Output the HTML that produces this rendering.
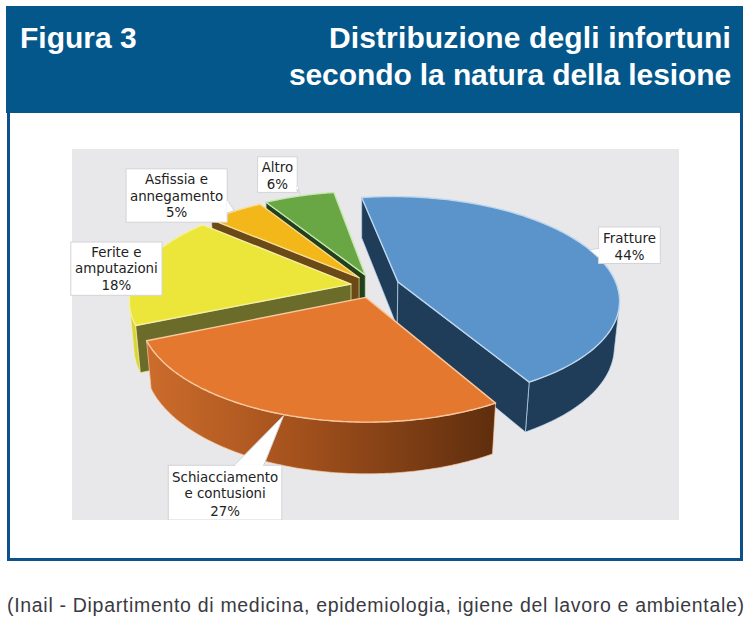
<!DOCTYPE html>
<html><head><meta charset="utf-8"><style>
html,body{margin:0;padding:0;background:#fff;}
body{width:753px;height:625px;position:relative;overflow:hidden;font-family:"Liberation Sans",sans-serif;}
#hdr{position:absolute;left:6px;top:6px;width:737px;height:107px;background:#03578b;}
#box{position:absolute;left:7px;top:110px;width:730px;height:448px;border:3px solid #0c5189;border-top:none;}
#plot{position:absolute;left:72px;top:149px;width:607px;height:371px;background:#e8e8ea;}
.h{position:absolute;color:#fff;font-weight:bold;font-size:30px;white-space:nowrap;line-height:30px;}
svg{position:absolute;left:0;top:0;}
svg text{font-family:"DejaVu Sans",sans-serif;font-size:13.4px;fill:#222;}
.cap{position:absolute;left:7px;top:594px;font-size:19.5px;letter-spacing:0.69px;color:#3a3a42;white-space:nowrap;}
</style></head><body>
<div id="hdr"></div>
<div id="box"></div>
<div id="plot"></div>
<div class="h" style="left:20px;top:23px">Figura 3</div>
<div class="h" style="right:22px;top:23px;text-align:right;letter-spacing:0.13px">Distribuzione degli infortuni</div>
<div class="h" style="right:22px;top:60px;text-align:right;letter-spacing:-0.1px">secondo la natura della lesione</div>
<svg width="753" height="625" viewBox="0 0 753 625">
<defs><linearGradient id="og" gradientUnits="userSpaceOnUse" x1="147" y1="0" x2="495" y2="0">
<stop offset="0" stop-color="#cc6c2c"/><stop offset="0.45" stop-color="#a2501c"/><stop offset="1" stop-color="#5f2e0e"/></linearGradient></defs>
<polygon points="365.3,275.1 265.9,202.3 267.5,242.9 365.2,319.8" fill="#22401b" stroke="#c7e6b0" stroke-opacity="0.7" stroke-width="1" stroke-linejoin="round"/>
<polygon points="365.3,275.1 265.9,202.3 266.4,202.1 267.0,202.0 267.5,201.9 268.1,201.8 268.6,201.6 269.2,201.5 269.7,201.4 270.3,201.3 270.8,201.1 271.4,201.0 271.9,200.9 272.5,200.8 273.0,200.7 273.6,200.6 274.1,200.4 274.7,200.3 275.2,200.2 275.8,200.1 276.3,200.0 276.9,199.9 277.4,199.8 278.0,199.7 278.5,199.6 279.1,199.4 279.6,199.3 280.2,199.2 280.8,199.1 281.3,199.0 281.9,198.9 282.4,198.8 283.0,198.7 283.6,198.6 284.1,198.5 284.7,198.4 285.2,198.3 285.8,198.2 286.4,198.1 286.9,198.0 287.5,197.9 288.1,197.8 288.6,197.7 289.2,197.6 289.8,197.5 290.3,197.4 290.9,197.3 291.5,197.2 292.0,197.1 292.6,197.1 293.2,197.0 293.7,196.9 294.3,196.8 294.9,196.7 295.4,196.6 296.0,196.5 296.6,196.4 297.1,196.4 297.7,196.3 298.3,196.2 298.9,196.1 299.4,196.0 300.0,195.9 300.6,195.9 301.2,195.8 301.7,195.7 302.3,195.6 302.9,195.5 303.5,195.5 304.0,195.4 304.6,195.3 305.2,195.2 305.8,195.2 306.4,195.1 306.9,195.0 307.5,194.9 308.1,194.9 308.7,194.8 309.3,194.7 309.8,194.7 310.4,194.6 311.0,194.5 311.6,194.5 312.2,194.4 312.7,194.3 313.3,194.3 313.9,194.2 314.5,194.1 315.1,194.1 315.7,194.0 316.2,194.0 316.8,193.9 317.4,193.8 318.0,193.8 318.6,193.7 319.2,193.7 319.7,193.6 320.3,193.5 320.9,193.5 321.5,193.4 322.1,193.4 322.7,193.3 323.3,193.3 323.9,193.2 324.4,193.2 325.0,193.1 325.6,193.1 326.2,193.0 326.8,193.0 327.4,192.9 328.0,192.9 328.6,192.8 329.2,192.8 329.7,192.8 330.3,192.7 330.9,192.7 331.5,192.6 332.1,192.6 332.7,192.5 333.3,192.5 333.9,192.5" fill="#69a744" stroke="#c7e6b0" stroke-width="1.4" stroke-linejoin="round"/>
<polygon points="359.1,277.7 211.4,219.6 214.0,261.2 359.1,322.5" fill="#6b4a17" stroke="#f7dc90" stroke-opacity="0.7" stroke-width="1" stroke-linejoin="round"/>
<polygon points="359.1,277.7 211.4,219.6 211.8,219.5 212.2,219.3 212.6,219.2 212.9,219.0 213.3,218.9 213.7,218.7 214.1,218.5 214.4,218.4 214.8,218.2 215.2,218.1 215.6,217.9 216.0,217.8 216.3,217.6 216.7,217.5 217.1,217.3 217.5,217.2 217.9,217.0 218.3,216.9 218.7,216.7 219.0,216.6 219.4,216.4 219.8,216.3 220.2,216.2 220.6,216.0 221.0,215.9 221.4,215.7 221.8,215.6 222.2,215.4 222.5,215.3 222.9,215.1 223.3,215.0 223.7,214.9 224.1,214.7 224.5,214.6 224.9,214.4 225.3,214.3 225.7,214.2 226.1,214.0 226.5,213.9 226.9,213.7 227.3,213.6 227.7,213.5 228.1,213.3 228.5,213.2 228.9,213.1 229.3,212.9 229.7,212.8 230.1,212.6 230.5,212.5 230.9,212.4 231.3,212.2 231.7,212.1 232.1,212.0 232.5,211.8 232.9,211.7 233.4,211.6 233.8,211.5 234.2,211.3 234.6,211.2 235.0,211.1 235.4,210.9 235.8,210.8 236.2,210.7 236.6,210.5 237.0,210.4 237.5,210.3 237.9,210.2 238.3,210.0 238.7,209.9 239.1,209.8 239.5,209.7 240.0,209.5 240.4,209.4 240.8,209.3 241.2,209.2 241.6,209.1 242.0,208.9 242.5,208.8 242.9,208.7 243.3,208.6 243.7,208.4 244.1,208.3 244.6,208.2 245.0,208.1 245.4,208.0 245.8,207.9 246.3,207.7 246.7,207.6 247.1,207.5 247.5,207.4 248.0,207.3 248.4,207.2 248.8,207.0 249.2,206.9 249.7,206.8 250.1,206.7 250.5,206.6 251.0,206.5 251.4,206.4 251.8,206.3 252.2,206.1 252.7,206.0 253.1,205.9 253.5,205.8 254.0,205.7 254.4,205.6 254.8,205.5 255.3,205.4 255.7,205.3 256.1,205.2 256.6,205.1 257.0,205.0 257.4,204.9 257.9,204.8 258.3,204.7 258.8,204.5 259.2,204.4 259.6,204.3 260.1,204.2" fill="#f3b71a" stroke="#f7dc90" stroke-width="1.4" stroke-linejoin="round"/>
<polygon points="135.7,325.5 135.2,324.5 134.7,323.5 134.2,322.5 133.8,321.6 133.4,320.6 133.0,319.6 132.6,318.6 132.2,317.6 131.9,316.6 131.6,315.7 131.3,314.7 131.0,313.7 130.8,312.7 130.5,311.7 130.3,310.7 130.1,309.8 130.0,308.8 129.8,307.8 129.7,306.8 134.3,353.1 134.4,354.1 134.6,355.2 134.7,356.2 134.9,357.2 135.1,358.2 135.4,359.3 135.6,360.3 135.9,361.4 136.2,362.4 136.5,363.4 136.8,364.5 137.2,365.5 137.6,366.5 138.0,367.6 138.4,368.6 138.8,369.6 139.3,370.7 139.8,371.7 140.3,372.7" fill="#d9d437" stroke="#f4f0a0" stroke-opacity="0.7" stroke-width="1" stroke-linejoin="round"/>
<polygon points="351.0,284.1 135.7,325.5 140.3,372.7 351.1,329.2" fill="#6c6c2a" stroke="#f4f0a0" stroke-opacity="0.7" stroke-width="1" stroke-linejoin="round"/>
<polygon points="351.0,284.1 135.7,325.5 135.2,324.5 134.7,323.5 134.2,322.5 133.8,321.6 133.4,320.6 133.0,319.6 132.6,318.6 132.2,317.6 131.9,316.6 131.6,315.7 131.3,314.7 131.0,313.7 130.8,312.7 130.5,311.7 130.3,310.7 130.1,309.8 130.0,308.8 129.8,307.8 129.7,306.8 129.6,305.8 129.5,304.8 129.5,303.9 129.4,302.9 129.4,301.9 129.4,300.9 129.4,300.0 129.4,299.0 129.5,298.0 129.6,297.1 129.7,296.1 129.8,295.1 129.9,294.2 130.1,293.2 130.2,292.3 130.4,291.3 130.6,290.3 130.9,289.4 131.1,288.4 131.4,287.5 131.7,286.6 132.0,285.6 132.3,284.7 132.6,283.7 133.0,282.8 133.4,281.9 133.8,281.0 134.2,280.0 134.6,279.1 135.1,278.2 135.5,277.3 136.0,276.4 136.5,275.5 137.0,274.6 137.6,273.7 138.1,272.8 138.7,271.9 139.3,271.0 139.9,270.1 140.5,269.2 141.1,268.3 141.8,267.5 142.4,266.6 143.1,265.7 143.8,264.9 144.5,264.0 145.2,263.1 146.0,262.3 146.7,261.4 147.5,260.6 148.3,259.8 149.1,258.9 149.9,258.1 150.7,257.3 151.6,256.5 152.5,255.6 153.3,254.8 154.2,254.0 155.1,253.2 156.0,252.4 157.0,251.6 157.9,250.9 158.9,250.1 159.8,249.3 160.8,248.5 161.8,247.8 162.8,247.0 163.9,246.2 164.9,245.5 165.9,244.7 167.0,244.0 168.1,243.3 169.2,242.5 170.3,241.8 171.4,241.1 172.5,240.4 173.6,239.7 174.8,239.0 175.9,238.3 177.1,237.6 178.3,236.9 179.5,236.2 180.7,235.5 181.9,234.9 183.1,234.2 184.4,233.5 185.6,232.9 186.9,232.2 188.1,231.6 189.4,230.9 190.7,230.3 192.0,229.7 193.3,229.1 194.6,228.4 195.9,227.8 197.3,227.2 198.6,226.6 200.0,226.0 201.3,225.5 202.7,224.9" fill="#ece63a" stroke="#f4f0a0" stroke-width="1.4" stroke-linejoin="round"/>
<polygon points="619.0,308.2 618.6,310.6 618.0,313.0 617.4,315.5 616.5,317.9 615.6,320.4 614.5,322.8 613.2,325.3 611.9,327.7 610.4,330.1 608.7,332.5 607.0,334.9 605.0,337.3 603.0,339.6 600.8,342.0 598.5,344.3 596.0,346.6 593.4,348.9 590.7,351.1 587.8,353.3 584.8,355.5 581.6,357.7 578.3,359.8 574.9,361.9 571.4,364.0 567.7,366.0 563.9,368.0 560.0,369.9 555.9,371.8 551.8,373.6 547.5,375.4 543.1,377.1 538.6,378.8 533.9,380.5 529.2,382.1 525.4,432.0 530.1,430.3 534.6,428.6 539.0,426.8 543.3,425.0 547.5,423.1 551.6,421.2 555.6,419.2 559.4,417.2 563.2,415.2 566.8,413.0 570.3,410.9 573.6,408.7 576.8,406.5 579.9,404.2 582.9,401.9 585.7,399.6 588.4,397.2 591.0,394.8 593.4,392.4 595.7,390.0 597.9,387.5 599.9,385.1 601.8,382.6 603.6,380.1 605.2,377.5 606.7,375.0 608.0,372.5 609.3,369.9 610.3,367.3 611.3,364.8 612.1,362.2 612.8,359.6 613.4,357.1 613.8,354.5" fill="#1f3c58" stroke="#bcd6ee" stroke-opacity="0.7" stroke-width="1" stroke-linejoin="round"/>
<polygon points="397.9,281.9 361.7,197.5 361.7,237.9 397.2,326.9" fill="#1f3c58" stroke="#bcd6ee" stroke-opacity="0.7" stroke-width="1" stroke-linejoin="round"/>
<polygon points="397.9,281.9 529.2,382.1 525.4,432.0 397.2,326.9" fill="#1f3c58" stroke="#bcd6ee" stroke-opacity="0.7" stroke-width="1" stroke-linejoin="round"/>
<polygon points="397.9,281.9 361.7,197.5 366.1,197.3 370.5,197.1 374.8,196.9 379.2,196.7 383.6,196.6 388.0,196.6 392.4,196.5 396.8,196.6 401.2,196.6 405.6,196.7 410.0,196.9 414.4,197.0 418.8,197.3 423.1,197.5 427.5,197.8 431.9,198.2 436.2,198.5 440.6,199.0 444.9,199.4 449.2,199.9 453.5,200.5 457.8,201.1 462.1,201.7 466.3,202.3 470.6,203.0 474.8,203.8 478.9,204.6 483.1,205.4 487.2,206.2 491.3,207.1 495.4,208.1 499.4,209.1 503.4,210.1 507.3,211.1 511.2,212.2 515.1,213.4 519.0,214.5 522.8,215.7 526.5,217.0 530.2,218.3 533.9,219.6 537.5,221.0 541.0,222.4 544.5,223.8 548.0,225.3 551.4,226.8 554.7,228.3 558.0,229.9 561.2,231.5 564.3,233.2 567.4,234.8 570.4,236.6 573.3,238.3 576.2,240.1 579.0,241.9 581.7,243.8 584.4,245.6 586.9,247.5 589.4,249.5 591.8,251.5 594.1,253.5 596.4,255.5 598.5,257.5 600.5,259.6 602.5,261.7 604.3,263.9 606.1,266.0 607.8,268.2 609.3,270.4 610.8,272.7 612.1,274.9 613.4,277.2 614.5,279.5 615.5,281.8 616.5,284.1 617.3,286.5 617.9,288.9 618.5,291.2 618.9,293.6 619.3,296.0 619.5,298.4 619.6,300.9 619.5,303.3 619.3,305.7 619.0,308.2 618.6,310.6 618.0,313.0 617.4,315.5 616.5,317.9 615.6,320.4 614.5,322.8 613.2,325.3 611.9,327.7 610.4,330.1 608.7,332.5 607.0,334.9 605.0,337.3 603.0,339.6 600.8,342.0 598.5,344.3 596.0,346.6 593.4,348.9 590.7,351.1 587.8,353.3 584.8,355.5 581.6,357.7 578.3,359.8 574.9,361.9 571.4,364.0 567.7,366.0 563.9,368.0 560.0,369.9 555.9,371.8 551.8,373.6 547.5,375.4 543.1,377.1 538.6,378.8 533.9,380.5 529.2,382.1" fill="#5b93cb" stroke="#bcd6ee" stroke-width="1.4" stroke-linejoin="round"/>
<polygon points="495.6,403.1 492.6,404.1 489.5,405.0 486.4,406.0 483.2,406.9 480.0,407.8 476.8,408.6 473.5,409.5 470.2,410.3 466.9,411.1 463.6,411.9 460.2,412.6 456.7,413.3 453.3,414.0 449.8,414.7 446.3,415.3 442.8,415.9 439.3,416.5 435.7,417.1 432.1,417.6 428.5,418.1 424.8,418.6 421.2,419.0 417.5,419.4 413.8,419.8 410.1,420.2 406.4,420.5 402.7,420.8 399.0,421.0 395.2,421.3 391.4,421.5 387.7,421.7 383.9,421.8 380.1,421.9 376.3,422.0 372.6,422.1 368.8,422.1 365.0,422.1 361.2,422.1 357.4,422.0 353.6,421.9 349.8,421.8 346.1,421.6 342.3,421.5 338.5,421.2 334.8,421.0 331.0,420.7 327.3,420.4 323.6,420.1 319.9,419.7 316.2,419.4 312.5,418.9 308.8,418.5 305.2,418.0 301.6,417.5 298.0,417.0 294.4,416.4 290.8,415.9 287.3,415.2 283.8,414.6 280.3,413.9 276.9,413.2 273.4,412.5 270.0,411.8 266.7,411.0 263.3,410.2 260.0,409.4 256.7,408.5 253.5,407.7 250.3,406.8 247.1,405.9 244.0,404.9 240.9,404.0 237.8,403.0 234.8,402.0 231.8,400.9 228.9,399.9 226.0,398.8 223.1,397.7 220.3,396.6 217.5,395.5 214.8,394.3 212.1,393.1 209.4,392.0 206.8,390.7 204.3,389.5 201.7,388.3 199.3,387.0 196.9,385.7 194.5,384.5 192.2,383.2 189.9,381.8 187.7,380.5 185.5,379.2 183.3,377.8 181.3,376.4 179.2,375.0 177.3,373.6 175.3,372.2 173.4,370.8 171.6,369.4 169.8,367.9 168.1,366.5 166.4,365.0 164.8,363.5 163.2,362.1 161.7,360.6 160.3,359.1 158.8,357.6 157.5,356.1 156.2,354.5 154.9,353.0 153.7,351.5 152.5,350.0 151.4,348.4 150.4,346.9 149.3,345.3 148.4,343.8 147.5,342.3 146.6,340.7 151.1,388.7 152.0,390.3 152.8,391.9 153.8,393.5 154.8,395.2 155.8,396.8 156.9,398.4 158.1,400.0 159.3,401.6 160.5,403.2 161.8,404.8 163.2,406.3 164.5,407.9 166.0,409.5 167.5,411.0 169.0,412.6 170.6,414.1 172.3,415.7 174.0,417.2 175.7,418.7 177.5,420.2 179.4,421.7 181.3,423.2 183.2,424.6 185.2,426.1 187.2,427.5 189.3,428.9 191.5,430.3 193.7,431.7 195.9,433.1 198.2,434.5 200.5,435.8 202.9,437.2 205.3,438.5 207.7,439.8 210.3,441.1 212.8,442.3 215.4,443.6 218.0,444.8 220.7,446.0 223.4,447.2 226.2,448.3 229.0,449.5 231.8,450.6 234.7,451.7 237.6,452.8 240.6,453.8 243.6,454.9 246.6,455.9 249.7,456.8 252.8,457.8 255.9,458.7 259.1,459.6 262.3,460.5 265.6,461.4 268.8,462.2 272.1,463.0 275.4,463.8 278.8,464.5 282.2,465.3 285.6,466.0 289.0,466.6 292.4,467.3 295.9,467.9 299.4,468.5 302.9,469.0 306.5,469.5 310.0,470.0 313.6,470.5 317.2,470.9 320.8,471.3 324.4,471.7 328.1,472.1 331.7,472.4 335.4,472.7 339.0,472.9 342.7,473.1 346.4,473.3 350.1,473.5 353.8,473.6 357.4,473.7 361.1,473.8 364.8,473.8 368.6,473.8 372.3,473.8 375.9,473.7 379.6,473.6 383.3,473.5 387.0,473.3 390.7,473.2 394.4,472.9 398.0,472.7 401.7,472.4 405.3,472.1 409.0,471.8 412.6,471.4 416.2,471.0 419.8,470.6 423.3,470.1 426.9,469.6 430.4,469.1 433.9,468.5 437.4,468.0 440.9,467.4 444.3,466.7 447.7,466.1 451.1,465.4 454.5,464.6 457.8,463.9 461.1,463.1 464.4,462.3 467.7,461.5 470.9,460.6 474.1,459.8 477.3,458.9 480.4,457.9 483.5,457.0 486.5,456.0 489.5,455.0 492.5,454.0" fill="url(#og)" stroke="#f8c9a0" stroke-opacity="0.7" stroke-width="1" stroke-linejoin="round"/>
<polygon points="365.9,297.4 495.6,403.1 492.6,404.1 489.5,405.0 486.4,406.0 483.2,406.9 480.0,407.8 476.8,408.6 473.5,409.5 470.2,410.3 466.9,411.1 463.6,411.9 460.2,412.6 456.7,413.3 453.3,414.0 449.8,414.7 446.3,415.3 442.8,415.9 439.3,416.5 435.7,417.1 432.1,417.6 428.5,418.1 424.8,418.6 421.2,419.0 417.5,419.4 413.8,419.8 410.1,420.2 406.4,420.5 402.7,420.8 399.0,421.0 395.2,421.3 391.4,421.5 387.7,421.7 383.9,421.8 380.1,421.9 376.3,422.0 372.6,422.1 368.8,422.1 365.0,422.1 361.2,422.1 357.4,422.0 353.6,421.9 349.8,421.8 346.1,421.6 342.3,421.5 338.5,421.2 334.8,421.0 331.0,420.7 327.3,420.4 323.6,420.1 319.9,419.7 316.2,419.4 312.5,418.9 308.8,418.5 305.2,418.0 301.6,417.5 298.0,417.0 294.4,416.4 290.8,415.9 287.3,415.2 283.8,414.6 280.3,413.9 276.9,413.2 273.4,412.5 270.0,411.8 266.7,411.0 263.3,410.2 260.0,409.4 256.7,408.5 253.5,407.7 250.3,406.8 247.1,405.9 244.0,404.9 240.9,404.0 237.8,403.0 234.8,402.0 231.8,400.9 228.9,399.9 226.0,398.8 223.1,397.7 220.3,396.6 217.5,395.5 214.8,394.3 212.1,393.1 209.4,392.0 206.8,390.7 204.3,389.5 201.7,388.3 199.3,387.0 196.9,385.7 194.5,384.5 192.2,383.2 189.9,381.8 187.7,380.5 185.5,379.2 183.3,377.8 181.3,376.4 179.2,375.0 177.3,373.6 175.3,372.2 173.4,370.8 171.6,369.4 169.8,367.9 168.1,366.5 166.4,365.0 164.8,363.5 163.2,362.1 161.7,360.6 160.3,359.1 158.8,357.6 157.5,356.1 156.2,354.5 154.9,353.0 153.7,351.5 152.5,350.0 151.4,348.4 150.4,346.9 149.3,345.3 148.4,343.8 147.5,342.3 146.6,340.7" fill="#e4782f" stroke="#f8c9a0" stroke-width="1.4" stroke-linejoin="round"/>
<rect x="257.6" y="156.8" width="39.6" height="35.6" fill="#fff" stroke="#d4d4d6" stroke-width="1"/>
<polygon points="297.2,186.0 300.0,194.0 297.2,190.0" fill="#fff" stroke="#d4d4d6" stroke-width="1"/>
<line x1="297.2" y1="186.8" x2="297.2" y2="189.2" stroke="#fff" stroke-width="1.6"/>
<text x="277.4" y="171.6" text-anchor="middle">Altro</text>
<text x="277.4" y="188.8" text-anchor="middle">6%</text>
<rect x="126.1" y="168.8" width="101.1" height="53.4" fill="#fff" stroke="#d4d4d6" stroke-width="1"/>
<polygon points="227.2,200.0 234.2,210.5 227.2,213.0" fill="#fff" stroke="#d4d4d6" stroke-width="1"/>
<line x1="227.2" y1="200.8" x2="227.2" y2="212.2" stroke="#fff" stroke-width="1.6"/>
<text x="176.6" y="183.9" text-anchor="middle">Asfissia e</text>
<text x="176.6" y="200.6" text-anchor="middle">annegamento</text>
<text x="176.6" y="217" text-anchor="middle">5%</text>
<rect x="70.8" y="242" width="91.2" height="53.3" fill="#fff" stroke="#d4d4d6" stroke-width="1"/>
<text x="116.4" y="256.8" text-anchor="middle">Ferite e</text>
<text x="116.4" y="273.2" text-anchor="middle">amputazioni</text>
<text x="116.4" y="290.3" text-anchor="middle">18%</text>
<rect x="598.6" y="227" width="61.7" height="36.5" fill="#fff" stroke="#d4d4d6" stroke-width="1"/>
<polygon points="598.6,248.4 589.4,249.8 598.6,257.5" fill="#fff" stroke="#d4d4d6" stroke-width="1"/>
<line x1="598.6" y1="249.20000000000002" x2="598.6" y2="256.7" stroke="#fff" stroke-width="1.6"/>
<text x="629.5" y="242.9" text-anchor="middle">Fratture</text>
<text x="629.5" y="259.5" text-anchor="middle">44%</text>
<rect x="168.3" y="465.3" width="113.5" height="54.7" fill="#fff" stroke="#d4d4d6" stroke-width="1"/>
<polygon points="234.4,465.3 283.6,415.6 263.8,465.3" fill="#fff" stroke="#d4d4d6" stroke-width="1"/>
<line x1="235.20000000000002" y1="465.3" x2="263.0" y2="465.3" stroke="#fff" stroke-width="1.6"/>
<text x="225.1" y="481.5" text-anchor="middle">Schiacciamento</text>
<text x="225.1" y="498.2" text-anchor="middle">e contusioni</text>
<text x="225.1" y="515.5" text-anchor="middle">27%</text>
<rect x="160" y="520" width="130" height="3" fill="#fff"/>
</svg>
<div class="cap">(Inail - Dipartimento di medicina, epidemiologia, igiene del lavoro e ambientale)</div>
</body></html>
